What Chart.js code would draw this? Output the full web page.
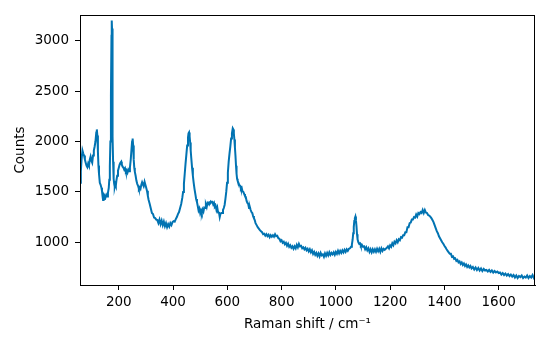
<!DOCTYPE html>
<html>
<head>
<meta charset="utf-8">
<script src="https://cdn.jsdelivr.net/npm/chart.js@4.4.1/dist/chart.umd.min.js"></script>
<style>
  html, body { margin: 0; padding: 0; background: #fff; }
  #wrap { width: 550px; height: 350px; }
</style>
</head>
<body>
<div id="wrap"><canvas id="ramanChart" width="550" height="350"></canvas></div>
<script>
// Raman shift (cm-1) and counts
const shift = [
  57, 60, 63, 66, 69, 72, 75, 78, 81, 84,
  87, 90, 93, 96, 99, 102, 105, 108, 111, 114,
  117, 119, 121, 123, 125, 127, 130, 133, 136, 138,
  140, 142, 144, 146, 148, 151, 154, 157, 160, 163,
  165, 167, 169, 171, 173, 174, 175, 176, 177, 178,
  179, 181, 183, 185, 187, 189, 191, 194, 197, 200,
  203, 206, 209, 211, 214, 217, 220, 223, 226, 229,
  232, 235, 238, 241, 244, 247, 249, 251, 253, 255,
  257, 259, 262, 265, 268, 271, 274, 277, 280, 283,
  286, 289, 292, 295, 298, 301, 304, 307, 310, 314,
  318, 322, 326, 330, 334, 338, 342, 346, 350, 354,
  358, 362, 366, 370, 374, 378, 382, 386, 390, 394,
  398, 402, 406, 410, 414, 418, 422, 426, 430, 434,
  437, 440, 443, 446, 449, 452, 455, 457, 459, 461,
  463, 465, 467, 470, 473, 476, 479, 482, 485, 488,
  491, 494, 497, 500, 503, 506, 509, 512, 515, 518,
  521, 524, 527, 530, 533, 536, 539, 542, 545, 548,
  551, 554, 557, 560, 563, 566, 569, 572, 575, 578,
  581, 584, 587, 590, 593, 596, 599, 602, 605, 608,
  611, 614, 617, 620, 622, 624, 626, 628, 630, 632,
  634, 636, 638, 641, 644, 647, 650, 653, 656, 659,
  662, 665, 668, 671, 674, 677, 680, 683, 686, 689,
  692, 695, 698, 701, 704, 708, 712, 716, 720, 724,
  728, 732, 736, 740, 744, 748, 752, 756, 760, 764,
  768, 772, 776, 780, 784, 788, 792, 796, 800, 804,
  808, 812, 816, 820, 824, 828, 832, 836, 840, 844,
  848, 852, 856, 860, 864, 868, 872, 876, 880, 884,
  888, 892, 896, 900, 904, 908, 912, 916, 920, 924,
  928, 932, 936, 940, 944, 948, 952, 956, 960, 964,
  968, 972, 976, 980, 984, 988, 992, 996, 1000, 1004,
  1008, 1012, 1016, 1020, 1024, 1028, 1032, 1036, 1040, 1044,
  1048, 1052, 1056, 1059, 1062, 1064, 1066, 1068, 1070, 1072,
  1074, 1076, 1078, 1080, 1083, 1086, 1089, 1092, 1096, 1100,
  1104, 1108, 1112, 1116, 1120, 1124, 1128, 1132, 1136, 1140,
  1144, 1148, 1152, 1156, 1160, 1164, 1168, 1172, 1176, 1180,
  1184, 1188, 1192, 1196, 1200, 1204, 1208, 1212, 1216, 1220,
  1224, 1228, 1232, 1236, 1240, 1244, 1248, 1252, 1256, 1260,
  1264, 1268, 1272, 1276, 1280, 1284, 1288, 1292, 1296, 1300,
  1304, 1308, 1312, 1316, 1320, 1324, 1328, 1332, 1336, 1340,
  1344, 1348, 1352, 1356, 1360, 1364, 1368, 1372, 1376, 1380,
  1384, 1388, 1392, 1396, 1400, 1404, 1408, 1412, 1416, 1420,
  1424, 1428, 1432, 1436, 1440, 1444, 1448, 1452, 1456, 1460,
  1464, 1468, 1472, 1476, 1480, 1484, 1488, 1492, 1496, 1500,
  1505, 1510, 1515, 1520, 1525, 1530, 1535, 1540, 1545, 1550,
  1555, 1560, 1565, 1570, 1575, 1580, 1585, 1590, 1595, 1600,
  1605, 1610, 1615, 1620, 1625, 1630, 1635, 1640, 1645, 1650,
  1655, 1660, 1665, 1670, 1675, 1680, 1685, 1690, 1695, 1700,
  1705, 1710, 1715, 1720, 1725, 1730, 1734
];

const counts = [
  1590, 1700, 1830, 1910, 1880, 1860, 1820, 1790, 1760, 1745,
  1780, 1760, 1820, 1850, 1810, 1790, 1860, 1910, 1950, 2000,
  2090, 2120, 2060, 1900, 1760, 1680, 1590, 1570, 1540, 1510,
  1460, 1420, 1450, 1430, 1460, 1445, 1470, 1455, 1490, 1540,
  1620, 1760, 2000, 2450, 3050, 3200, 3120, 2800, 2400, 2050,
  1800, 1630, 1580, 1550, 1575, 1560, 1610, 1660, 1710, 1740,
  1770, 1790, 1800, 1770, 1750, 1740, 1720, 1735, 1700, 1710,
  1690, 1720, 1705, 1740, 1820, 1930, 2000, 2030, 1960, 1820,
  1740, 1700, 1660, 1610, 1580, 1560, 1530, 1545, 1530, 1570,
  1595, 1575, 1560, 1600, 1570, 1540, 1510, 1460, 1420, 1380,
  1335, 1290, 1280, 1245, 1240, 1225, 1220, 1190, 1225, 1180,
  1215, 1170, 1205, 1160, 1190, 1150, 1180, 1155, 1190, 1170,
  1200, 1210, 1205, 1230, 1250, 1280, 1300, 1340, 1380, 1440,
  1500, 1580, 1680, 1780, 1870, 1960, 2040, 2080, 2090, 2050,
  1990, 1910, 1840, 1740, 1660, 1590, 1530, 1480, 1430, 1400,
  1360, 1315, 1335, 1290, 1315, 1290, 1325, 1305, 1345, 1340,
  1375, 1350, 1390, 1380, 1395, 1390, 1405, 1395, 1400, 1375,
  1390, 1350, 1360, 1320, 1345, 1295, 1300, 1250, 1285, 1290,
  1290, 1320, 1340, 1370, 1430, 1500, 1590, 1690, 1800, 1880,
  1950, 2030, 2080, 2130, 2120, 2080, 2020, 1940, 1860, 1760,
  1680, 1630, 1610, 1590, 1570, 1560, 1530, 1540, 1505, 1500,
  1480, 1460, 1450, 1410, 1390, 1380, 1340, 1350, 1320, 1300,
  1290, 1260, 1240, 1220, 1190, 1170, 1150, 1135, 1120, 1110,
  1100, 1080, 1085, 1065, 1080, 1060, 1075, 1050, 1070, 1055,
  1070, 1055, 1080, 1060, 1065, 1040, 1035, 1010, 1020, 995,
  1005, 980, 995, 965, 985, 955, 970, 945, 960, 935,
  960, 940, 975, 950, 985, 960, 965, 940, 950, 930,
  945, 920, 935, 910, 930, 900, 920, 885, 905, 875,
  895, 865, 890, 860, 895, 870, 880, 855, 890, 865,
  895, 870, 900, 875, 895, 880, 900, 875, 905, 885,
  915, 890, 915, 895, 920, 900, 925, 905, 930, 915,
  935, 940, 955, 975, 1030, 1090, 1150, 1210, 1240, 1255,
  1220, 1160, 1080, 1030, 1000, 985, 990, 965, 975, 955,
  960, 930, 950, 920, 940, 905, 930, 900, 930, 905,
  930, 905, 935, 910, 935, 905, 940, 915, 935, 925,
  935, 945, 960, 940, 970, 955, 990, 970, 1005, 990,
  1020, 1000, 1030, 1020, 1050, 1045, 1070, 1070, 1100, 1100,
  1150, 1150, 1190, 1195, 1225, 1225, 1250, 1245, 1275, 1255,
  1290, 1280, 1300, 1290, 1320, 1290, 1320, 1295, 1290, 1270,
  1265, 1255, 1240, 1220, 1200, 1170, 1140, 1110, 1090, 1060,
  1040, 1020, 1000, 985, 965, 950, 930, 915, 900, 885,
  885, 855, 860, 835, 840, 815, 825, 800, 810, 785,
  800, 775, 790, 765, 780, 755, 770, 750, 765, 740,
  755, 730, 750, 725, 745, 720, 740, 715, 735, 720,
  725, 710, 725, 705, 720, 700, 715, 700, 710, 695,
  700, 680, 695, 675, 690, 670, 685, 665, 680, 660,
  675, 650, 670, 645, 665, 655, 670, 645, 660, 650,
  670, 645, 665, 650, 675, 645, 660
];

const xTicks = [200, 400, 600, 800, 1000, 1200, 1400, 1600];
const yTicks = [1000, 1500, 2000, 2500, 3000];

const font = { family: "'DejaVu Sans', sans-serif", size: 13.5 };

// matplotlib-like box around the plot area
const frame = {
  id: "frame",
  afterDraw(chart) {
    const { ctx, chartArea: a } = chart;
    ctx.save();
    ctx.strokeStyle = "#000";
    ctx.lineWidth = 1;
    ctx.strokeRect(Math.round(a.left) + 0.5, Math.round(a.top) + 0.5,
      Math.round(a.right - a.left) - 1, Math.round(a.bottom - a.top));
    ctx.restore();
  },
};

new Chart(document.getElementById("ramanChart"), {
  type: "line",
  data: {
    datasets: [{
      data: shift.map((x, i) => ({ x, y: counts[i] })),
      borderColor: "#0173b2",
      borderWidth: 2,
      pointRadius: 0,
      tension: 0,
      fill: false,
    }],
  },
  options: {
    responsive: false,
    devicePixelRatio: 1,
    animation: false,
    layout: { padding: { top: 15, right: 15, left: 0, bottom: 0 } },
    plugins: { legend: { display: false }, tooltip: { enabled: false } },
    scales: {
      x: {
        type: "linear",
        min: 57,
        max: 1734,
        afterBuildTicks: (s) => { s.ticks = xTicks.map((v) => ({ value: v })); },
        afterFit: (s) => { s.height = 65; },
        grid: { drawOnChartArea: false, drawTicks: true, tickLength: 5, color: "#000" },
        border: { display: true, color: "#000" },
        ticks: { color: "#000", font, padding: 4, autoSkip: false, maxRotation: 0, callback: (v) => String(v) },
        title: { display: true, text: "Raman shift / cm⁻¹", color: "#000", font, padding: { top: 0, bottom: 17 } },
      },
      y: {
        min: 576,
        max: 3255,
        afterBuildTicks: (s) => { s.ticks = yTicks.map((v) => ({ value: v })); },
        afterFit: (s) => { s.width = 80; },
        grid: { drawOnChartArea: false, drawTicks: true, tickLength: 5, color: "#000" },
        border: { display: true, color: "#000" },
        ticks: { color: "#000", font, padding: 6, autoSkip: false, callback: (v) => String(v) },
        title: { display: true, text: "Counts", color: "#000", font, padding: { top: 12, bottom: 0 } },
      },
    },
  },
  plugins: [frame],
});
</script>
</body>
</html>
